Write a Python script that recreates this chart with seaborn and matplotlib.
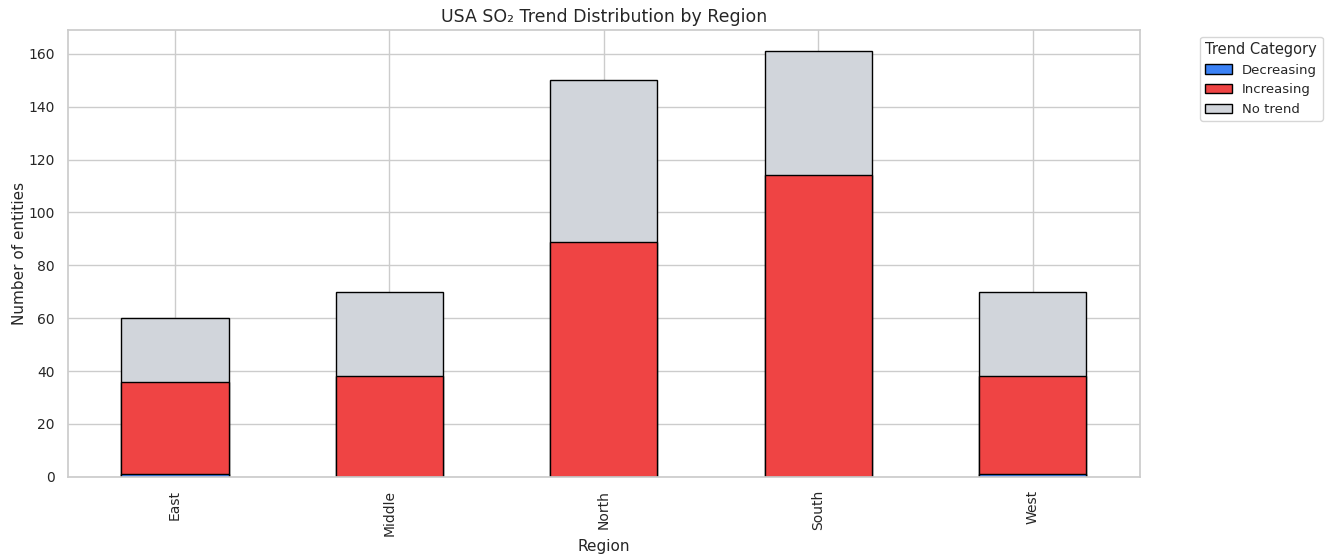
import pandas as pd
import seaborn as sns
import matplotlib.pyplot as plt
from matplotlib.patches import Patch

# Data
regions = ["East", "Middle", "North", "South", "West"]
decreasing = [1, 0, 0, 0, 1]
increasing = [35, 38, 89, 114, 37]
no_trend = [24, 32, 61, 47, 32]

categories = ["Decreasing", "Increasing", "No trend"]
colors = {"Decreasing": "#3b82f6", "Increasing": "#ef4444", "No trend": "#d1d5db"}

sns.set_theme(style="whitegrid")
plt.rcParams["font.family"] = ["DejaVu Sans"]

df = pd.DataFrame({
    "Region": regions,
    "Decreasing": decreasing,
    "Increasing": increasing,
    "No trend": no_trend,
})
# cumulative heights for stacking (draw tallest first)
df["cum_dec"] = df["Decreasing"]
df["cum_inc"] = df["cum_dec"] + df["Increasing"]
df["cum_all"] = df["cum_inc"] + df["No trend"]

fig, ax = plt.subplots(figsize=(13.3, 5.57), dpi=100)
fig.subplots_adjust(left=0.051, right=0.857, top=0.946, bottom=0.144)

for col, cat in [("cum_all", "No trend"), ("cum_inc", "Increasing"), ("cum_dec", "Decreasing")]:
    sns.barplot(data=df, x="Region", y=col, color=colors[cat], width=0.5,
                edgecolor="black", linewidth=1, saturation=1, ax=ax)

ax.set_xlim(-0.5, len(regions) - 0.5)
ax.set_ylim(0, 169)
ax.xaxis.grid(True)
ax.set_axisbelow(True)
ax.set_title("USA SO₂ Trend Distribution by Region", fontsize=12.5)
ax.set_xlabel("Region", fontsize=11, labelpad=2)
ax.set_ylabel("Number of entities", fontsize=11, labelpad=1)
ax.tick_params(axis="both", labelsize=10)
plt.xticks(rotation=90)

handles = [Patch(facecolor=colors[c], edgecolor="black", label=c) for c in categories]
ax.legend(handles=handles, title="Trend Category", bbox_to_anchor=(1.05, 1),
          loc="upper left", fontsize=9.5, title_fontsize=10.5)

fig.savefig("out.png", dpi=100)
